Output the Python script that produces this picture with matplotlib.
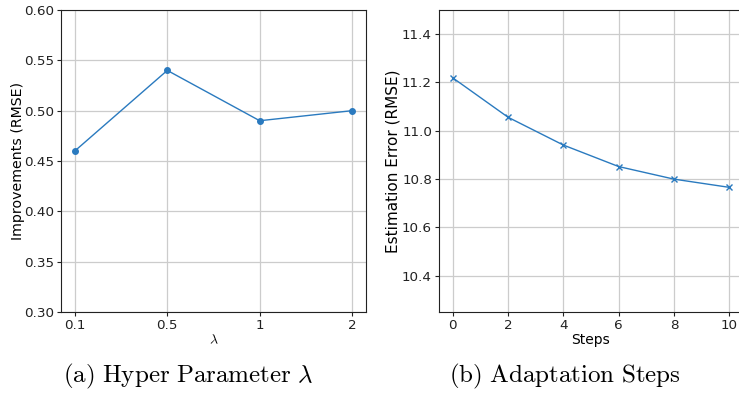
import matplotlib
matplotlib.use("Agg")
import matplotlib.pyplot as plt

lambda_labels = ["0.1", "0.5", "1", "2"]
improvements = [0.46, 0.54, 0.49, 0.50]

steps = [0, 2, 4, 6, 8, 10]
est_error = [11.219, 11.056, 10.941, 10.852, 10.800, 10.766]

plt.rcParams['mathtext.fontset'] = 'cm'
fig = plt.figure(figsize=(7.39, 3.93), dpi=100)
W, H = 739, 393
ax1 = fig.add_axes([61/W, 81/H, 305/W, 302/H])
ax2 = fig.add_axes([439/W, 81/H, 304/W, 302/H])

color = '#2a7abf'
x1 = list(range(len(lambda_labels)))
ax1.plot(x1, improvements, marker='o', markersize=4, color=color, linewidth=1)
ax1.set_xticks(x1)
ax1.set_xticklabels(lambda_labels)
ax1.set_ylim(0.3, 0.6)
ax1.set_yticks([0.30, 0.35, 0.40, 0.45, 0.50, 0.55, 0.60])
ax1.set_ylabel("Improvements (RMSE)", fontsize=10.2)
ax1.yaxis.set_label_coords(-0.118, 0.5)
ax1.set_xlabel(r"$\lambda$", fontsize=10, labelpad=1)

ax2.plot(steps, est_error, marker='x', markersize=4.5, color=color, linewidth=1)
ax2.set_xticks(steps)
ax2.set_ylim(10.25, 11.5)
ax2.set_yticks([10.4, 10.6, 10.8, 11.0, 11.2, 11.4])
ax2.set_ylabel("Estimation Error (RMSE)", fontsize=11)
ax2.yaxis.set_label_coords(-0.128, 0.5)
ax2.set_xlabel("Steps", fontsize=10, labelpad=1)

for ax in (ax1, ax2):
    ax.grid(True, color='#cccccc', linewidth=0.9)
    ax.set_axisbelow(True)
    ax.tick_params(labelsize=9.7, colors='#222222', length=3, pad=2)
    for s in ax.spines.values():
        s.set_color('#222222')

fig.text(188/W, 1 - 376/H, r"$\mathrm{(a)\ Hyper\ Parameter}\ \lambda$", ha='center', va='center', fontsize=18)
fig.text(565/W, 1 - 376/H, r"$\mathrm{(b)\ Adaptation\ Steps}$", ha='center', va='center', fontsize=18)

fig.savefig("out.png", dpi=100)
